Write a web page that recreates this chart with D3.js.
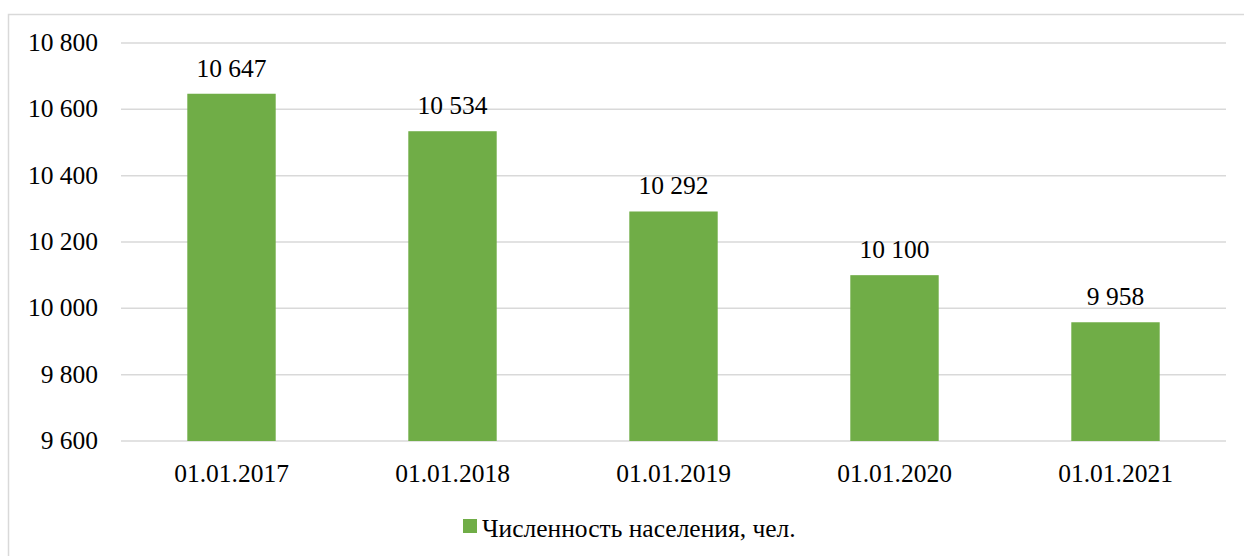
<!DOCTYPE html>
<html><head><meta charset="utf-8">
<script src="https://cdn.jsdelivr.net/npm/d3@7"></script>
<style>body{margin:0;background:#fff}svg{display:block}</style>
</head><body><svg id="c" width="1244" height="556"></svg>
<script>
const categories = ["01.01.2017","01.01.2018","01.01.2019","01.01.2020","01.01.2021"];
const values = [10647, 10534, 10292, 10100, 9958];
const yTicks = [9600, 9800, 10000, 10200, 10400, 10600, 10800];
const seriesName = "Численность населения, чел.";

const svg = d3.select("#c");
const fmt = v => d3.format(",")(v).replace(/,/g, " ");
const FF = '"Liberation Serif"';
const FS = "25.5px";
const txt = sel => sel.style("font-family", FF).style("font-size", FS).attr("fill", "#000");

svg.append("path").attr("d","M8.5,556 L8.5,14.5 L1244,14.5").attr("fill","none").attr("stroke","#d9d9d9").attr("stroke-width",1.5);

const x = d3.scaleBand().domain(categories).range([121, 1226]).paddingInner(0.6).paddingOuter(0.3);
const y = d3.scaleLinear().domain([9600, 10800]).range([441, 43]);

svg.append("g").selectAll("line").data(yTicks).join("line")
  .attr("x1",121).attr("x2",1226).attr("y1",d=>y(d)).attr("y2",d=>y(d))
  .attr("stroke","#d9d9d9").attr("stroke-width",1.5);

svg.append("g").selectAll("text").data(yTicks).join("text")
  .attr("x",98).attr("y",d=>y(d)+8).attr("text-anchor","end")
  .call(txt).text(fmt);

svg.append("g").selectAll("rect").data(values).join("rect")
  .attr("x",(d,i)=>x(categories[i])).attr("width",x.bandwidth())
  .attr("y",d=>y(d)).attr("height",d=>y(9600)-y(d)).attr("fill","#70ad47");

svg.append("g").selectAll("text").data(values).join("text")
  .attr("x",(d,i)=>x(categories[i])+x.bandwidth()/2).attr("y",d=>y(d)-17)
  .attr("text-anchor","middle").call(txt).text(fmt);

svg.append("g").selectAll("text").data(categories).join("text")
  .attr("x",d=>x(d)+x.bandwidth()/2).attr("y",482)
  .attr("text-anchor","middle").call(txt).text(d=>d);

const lg = svg.append("g");
lg.append("rect").attr("x",463).attr("y",519).attr("width",14).attr("height",14).attr("fill","#70ad47");
lg.append("text").attr("x",482).attr("y",537).call(txt).text(seriesName);
</script></body></html>
